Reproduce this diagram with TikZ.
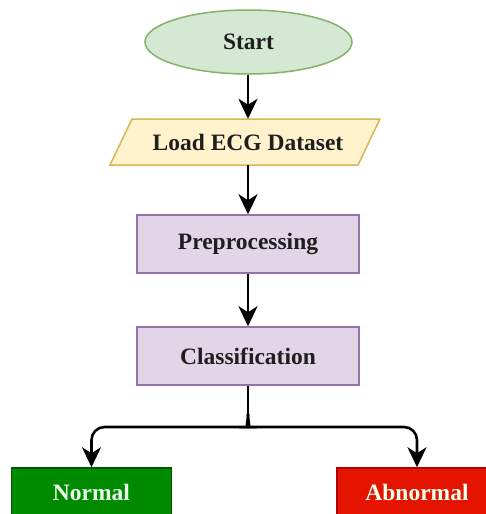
\documentclass[tikz,border=0pt]{standalone}
\usepackage{fontspec}
\setmainfont{Liberation Serif}
\usetikzlibrary{arrows.meta,shapes.geometric}
\definecolor{startfill}{HTML}{D5E8D4}
\definecolor{startline}{HTML}{82B366}
\definecolor{iofill}{HTML}{FFF2CC}
\definecolor{ioline}{HTML}{D6B656}
\definecolor{procfill}{HTML}{E1D5E7}
\definecolor{procline}{HTML}{9673A6}
\definecolor{okfill}{HTML}{008A00}
\definecolor{okline}{HTML}{005700}
\definecolor{badfill}{HTML}{E51400}
\definecolor{badline}{HTML}{B20000}
\tikzset{
  lbl/.style={font=\fontsize{23.5}{27}\selectfont\bfseries, text=black!88},
  procbox/.style={lbl, draw=procline, fill=procfill, line width=1.5pt,
    minimum width=222pt, minimum height=58pt, inner sep=0pt},
  outbox/.style={lbl, line width=1.5pt, minimum width=160pt,
    minimum height=48pt, inner sep=0pt, text=white!92!green},
  arr/.style={draw=black, line width=2.6pt,
    -{Stealth[length=20pt,width=19pt,inset=6pt]}}
}
\begin{document}
\begin{tikzpicture}[x=1pt,y=-1pt]
  \useasboundingbox (0,0) rectangle (486,514);
  \clip (0,0) rectangle (486,514);
  \fill[white] (0,0) rectangle (486,514);

  % start terminal
  \node[lbl, ellipse, draw=startline, fill=startfill, line width=1.5pt,
        minimum width=207pt, minimum height=64pt, inner sep=0pt]
        (start) at (248.5,42) {Start};

  % input: dataset (parallelogram)
  \draw[draw=ioline, fill=iofill, line width=1.5pt]
        (132,119) -- (380,119) -- (358,165) -- (110,165) -- cycle;
  \node[lbl, minimum width=226pt, minimum height=46pt, inner sep=0pt]
        (load) at (248,142) {Load ECG Dataset};

  % processing steps
  \node[procbox] (prep) at (248,244) {Preprocessing};
  \node[procbox] (cls)  at (248,356) {Classification};

  % outcomes
  \node[outbox, draw=okline, fill=okfill]   (nrm) at (91.5,492) {Normal};
  \node[outbox, draw=badline, fill=badfill] (abn) at (417,492) {Abnormal};

  % flow
  \draw[arr] (start.south -| load.north) -- (load.north);
  \draw[arr] (load.south) -- (prep.north);
  \draw[arr] (prep.south) -- (cls.north);

  % branching connector
  \coordinate (fork) at (248,414);
  \draw[line width=2.6pt] (cls.south) -- (fork);
  \draw[arr, rounded corners=13pt] (fork) .. controls (248,424) and (245,427) .. (236,427)
        -- (nrm.north |- 0,427) -- (nrm.north);
  \draw[arr, rounded corners=13pt] (fork) .. controls (248,424) and (251,427) .. (260,427)
        -- (abn.north |- 0,427) -- (abn.north);
\end{tikzpicture}
\end{document}
